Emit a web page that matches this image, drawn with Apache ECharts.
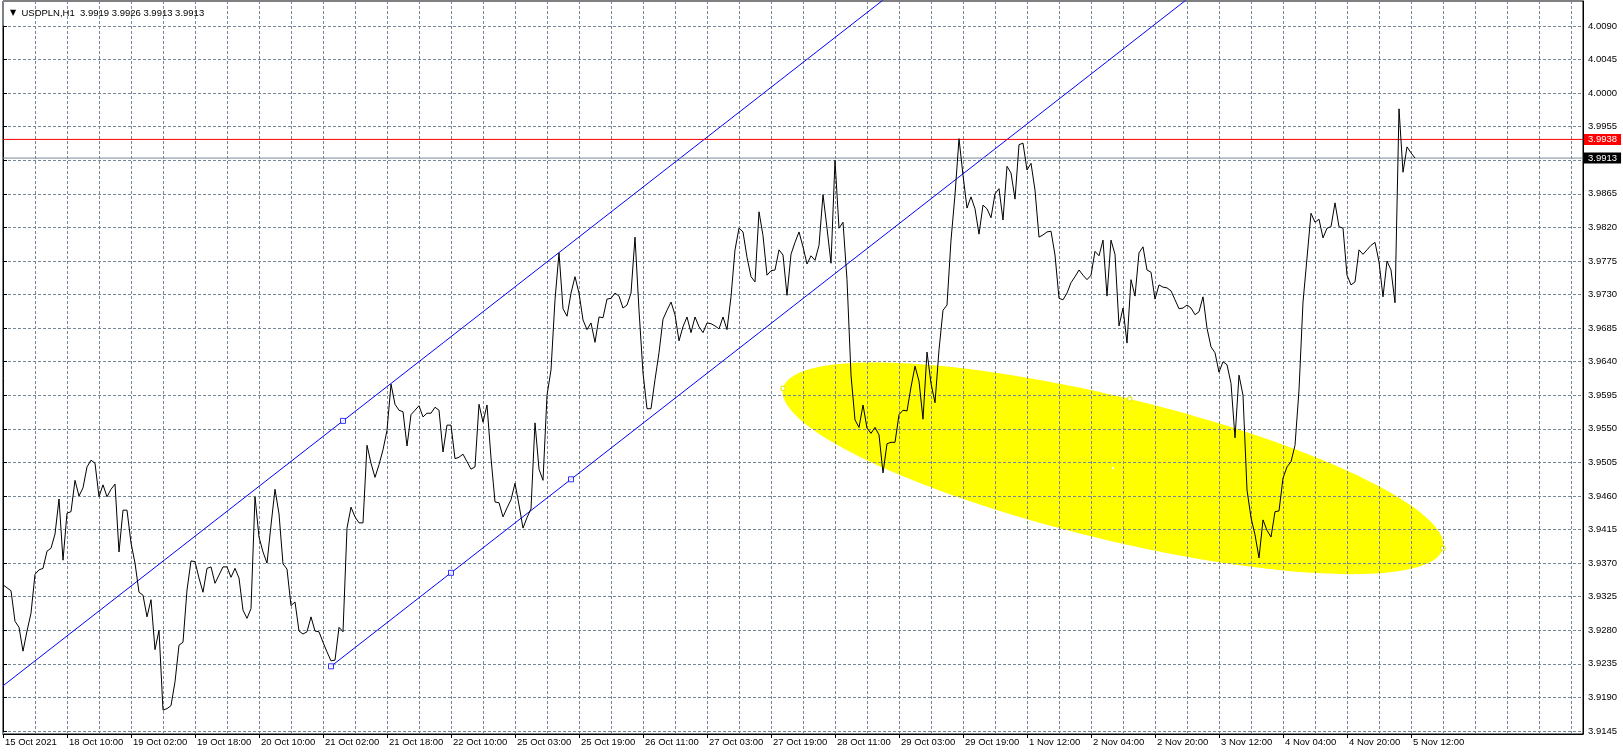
<!DOCTYPE html>
<html>
<head>
<meta charset="utf-8">
<script src="https://cdn.jsdelivr.net/npm/echarts@6/dist/echarts.min.js"></script>
<style>
html,body{margin:0;padding:0;background:#fff;}
#chart{width:1623px;height:755px;}
</style>
</head>
<body>
<div id="chart"></div>
<script>
// ---- data ----
const symbolTitle = 'USDPLN,H1  3.9919 3.9926 3.9913 3.9913';
const tickLabels = ['15 Oct 2021','18 Oct 10:00','19 Oct 02:00','19 Oct 18:00','20 Oct 10:00','21 Oct 02:00','21 Oct 18:00','22 Oct 10:00','25 Oct 03:00','25 Oct 19:00','26 Oct 11:00','27 Oct 03:00','27 Oct 19:00','28 Oct 11:00','29 Oct 03:00','29 Oct 19:00','1 Nov 12:00','2 Nov 04:00','2 Nov 20:00','3 Nov 12:00','4 Nov 04:00','4 Nov 20:00','5 Nov 12:00'];
const closes = [
3.9341,3.9337,3.9333,3.9292,3.9284,3.9252,3.9279,3.9303,3.9355,3.9361,
3.9363,3.9386,3.9390,3.9409,3.9456,3.9374,3.9437,3.9439,3.9481,3.9460,
3.9471,3.9499,3.9508,3.9504,3.9459,3.9475,3.9459,3.9469,3.9476,3.9385,
3.9441,3.9441,3.9397,3.9370,3.9331,3.9327,3.9298,3.9321,3.9254,3.9280,
3.9173,3.9175,3.9179,3.9211,3.9260,3.9264,3.9334,3.9373,3.9372,3.9350,
3.9331,3.9363,3.9365,3.9343,3.9354,3.9365,3.9365,3.9351,3.9363,3.9350,
3.9307,3.9296,3.9309,3.9459,3.9405,3.9385,3.9370,3.9421,3.9469,3.9436,
3.9369,3.9362,3.9313,3.9318,3.9279,3.9275,3.9278,3.9298,3.9279,3.9278,
3.9264,3.9251,3.9239,3.9240,3.9284,3.9278,3.9417,3.9445,3.9432,3.9424,
3.9424,3.9528,3.9504,3.9485,3.9502,3.9522,3.9548,3.9610,3.9583,3.9575,
3.9573,3.9527,3.9569,3.9575,3.9581,3.9566,3.9571,3.9571,3.9579,3.9575,
3.9519,3.9555,3.9555,3.9510,3.9512,3.9516,3.9506,3.9496,3.9499,3.9583,
3.9559,3.9582,3.9511,3.9452,3.9451,3.9432,3.9444,3.9455,3.9477,3.9448,
3.9417,3.9431,3.9443,3.9558,3.9496,3.9481,3.9595,3.9629,3.9723,3.9786,
3.9711,3.9701,3.9732,3.9754,3.9732,3.9696,3.9683,3.9692,3.9666,3.9700,
3.9699,3.9724,3.9725,3.9732,3.9728,3.9712,3.9716,3.9732,3.9807,3.9709,
3.9625,3.9577,3.9577,3.9616,3.9652,3.9697,3.9709,3.9720,3.9703,3.9668,
3.9687,3.9700,3.9679,3.9700,3.9687,3.9679,3.9692,3.9691,3.9688,3.9684,
3.9700,3.9683,3.9727,3.9790,3.9819,3.9814,3.9780,3.9754,3.9747,3.9841,
3.9809,3.9756,3.9762,3.9763,3.9790,3.9783,3.9729,3.9784,3.9800,3.9814,
3.9794,3.9771,3.9782,3.9776,3.9796,3.9864,3.9819,3.9772,3.9910,3.9819,
3.9827,3.9750,3.9622,3.9562,3.9552,3.9582,3.9551,3.9544,3.9552,3.9542,
3.9491,3.9530,3.9532,3.9532,3.9569,3.9575,3.9574,3.9606,3.9634,3.9614,
3.9563,3.9653,3.9611,3.9585,3.9656,3.9709,3.9716,3.9803,3.9864,3.9939,
3.9890,3.9846,3.9861,3.9845,3.9811,3.9850,3.9845,3.9833,3.9865,3.9872,
3.9830,3.9902,3.9893,3.9858,3.9931,3.9933,3.9897,3.9906,3.9870,3.9807,
3.9810,3.9814,3.9815,3.9783,3.9725,3.9723,3.9732,3.9746,3.9754,3.9763,
3.9756,3.9750,3.9756,3.9788,3.9782,3.9803,3.9728,3.9803,3.9784,3.9688,
3.9712,3.9665,3.9750,3.9728,3.9786,3.9794,3.9763,3.9760,3.9724,3.9743,
3.9740,3.9739,3.9735,3.9723,3.9711,3.9712,3.9716,3.9712,3.9703,3.9707,
3.9727,3.9685,3.9660,3.9652,3.9626,3.9640,3.9636,3.9611,3.9538,3.9622,
3.9595,3.9468,3.9431,3.9408,3.9377,3.9428,3.9414,3.9405,3.9439,3.9440,
3.9484,3.9499,3.9506,3.9528,3.9602,3.9720,3.9779,3.9839,3.9827,3.9831,
3.9806,3.9819,3.9821,3.9853,3.9821,3.9819,3.9756,3.9743,3.9747,3.9790,
3.9784,3.9790,3.9796,3.9800,3.9774,3.9727,3.9775,3.9763,3.9719,3.9979,
3.9894,3.9928,3.9920,3.9913
];
const askLine = 3.9938;     // red level
const bidLine = 3.9913;     // grey level
const priceTicks = {min: 3.9145, max: 4.0090, step: 0.0045};
const viewRange = {min: 3.914098, max: 4.012355};
// channel anchors [bar index, price]
const channelLowerA = [82, 3.92317];
const channelLowerB = [142, 3.94824];
const channelUpperC = [85, 3.95607];
// ellipse: major-axis end points [bar, price] and minor/major ratio
const ellipseEnds = [195, 3.96044, 360, 3.93899];
const ellipseRatio = 0.21;
const totalSlots = 396;

// ---- categories (hourly bars, market closed at weekends) ----
const categories = [];
(function(){
  let t = Date.UTC(2021, 9, 15, 17);
  for (let i = 0; i < totalSlots; i++) {
    const d = new Date(t);
    categories.push(d.toISOString().slice(0,16).replace('T',' '));
    if (d.getUTCDay() === 5 && d.getUTCHours() === 22) t += 50 * 3600e3;
    else t += 3600e3;
  }
})();

// channel lines
const slope = (channelLowerB[1] - channelLowerA[1]) / (channelLowerB[0] - channelLowerA[0]);
const lastIdx = totalSlots - 1;
const lowerLine = [[channelLowerA[0], channelLowerA[1]], [lastIdx, channelLowerA[1] + slope * (lastIdx - channelLowerA[0])]];
const upperLine = [[0, channelUpperC[1] - slope * channelUpperC[0]], [lastIdx, channelUpperC[1] + slope * (lastIdx - channelUpperC[0])]];
const midIdx = (channelLowerA[0] + channelLowerB[0]) / 2;
const anchors = [channelLowerA, [midIdx, channelLowerA[1] + slope * (midIdx - channelLowerA[0])], channelLowerB, channelUpperC];

const FONT = 'Liberation Sans, Arial, sans-serif';
const gridCol = '#778899';

function levelSeries(name, value, color, boxColor) {
  return {
    type: 'line', name: name, xAxisIndex: 0, yAxisIndex: 0, silent: true, symbol: 'none', z: 4,
    data: [[0, value], [lastIdx, value]],
    lineStyle: {color: color, width: 1, type: 'solid'},
    endLabel: {
      show: true, formatter: value.toFixed(4), distance: 1,
      backgroundColor: boxColor, color: '#ffffff', padding: [1, 4, 0, 4], lineHeight: 10,
      fontFamily: FONT, fontSize: 9.5
    }
  };
}

const chart = echarts.init(document.getElementById('chart'), null, {renderer: 'canvas'});
chart.setOption({
  animation: false,
  backgroundColor: '#ffffff',
  title: {
    text: '{t|▼}  ' + symbolTitle,
    left: 5, top: 3,
    textStyle: {
      fontFamily: FONT, fontSize: 9.5, fontWeight: 'normal', color: '#000',
      rich: {t: {fontSize: 8, fontFamily: 'DejaVu Sans', color: '#000'}}
    }
  },
  grid: [
    {left: 3, right: 40, top: 1, bottom: 21, show: true, borderColor: '#000', borderWidth: 1, backgroundColor: 'transparent'},
    {left: 3, right: 40, top: 26, bottom: 24, show: false}
  ],
  xAxis: [
    {
      type: 'category', gridIndex: 0, data: categories, boundaryGap: false,
      axisLine: {show: true, lineStyle: {color: '#000', width: 1}},
      axisTick: {show: true, length: 4, interval: (i) => i % 16 === 0 && i / 16 < tickLabels.length, lineStyle: {color: '#000'}},
      axisLabel: {
        show: true, interval: (i) => i % 16 === 0 && i / 16 < tickLabels.length,
        formatter: (v, i) => tickLabels[i / 16] || '',
        align: 'left', padding: [0, 0, 0, 2], margin: 3,
        fontFamily: FONT, fontSize: 9.5, color: '#000'
      },
      splitLine: {show: true, interval: 7, lineStyle: {color: gridCol, width: 1, type: [3, 2]}}
    },
    {type: 'value', gridIndex: 1, show: false, min: 0, max: 1}
  ],
  yAxis: [
    {
      type: 'value', gridIndex: 0, position: 'right', min: viewRange.min, max: viewRange.max, scale: true,
      axisLine: {show: true, lineStyle: {color: '#000'}},
      axisTick: {show: false}, axisLabel: {show: false}, splitLine: {show: false}
    },
    {
      type: 'value', gridIndex: 1, position: 'right', min: priceTicks.min, max: priceTicks.max, interval: priceTicks.step, scale: true,
      axisLine: {show: true, lineStyle: {color: '#000'}},
      axisTick: {show: true, length: 4, lineStyle: {color: '#000'}},
      axisLabel: {show: true, margin: 5, fontFamily: FONT, fontSize: 9.5, color: '#000',
        formatter: (v) => (Math.abs(v - bidLine) < 0.001 || Math.abs(v - askLine) < 0.001) ? '' : v.toFixed(4)},
      splitLine: {show: true, lineStyle: {color: gridCol, width: 1, type: [3, 2]}}
    }
  ],
  series: [
    {
      type: 'custom', name: 'ellipse', xAxisIndex: 0, yAxisIndex: 0, z: -1, silent: true,
      data: [ellipseEnds],
      renderItem: function (params, api) {
        const a = api.coord([api.value(0), api.value(1)]);
        const b = api.coord([api.value(2), api.value(3)]);
        const cx = (a[0] + b[0]) / 2, cy = (a[1] + b[1]) / 2;
        const dx = (b[0] - a[0]) / 2, dy = (b[1] - a[1]) / 2;
        const ra = Math.hypot(dx, dy), ang = Math.atan2(dy, dx), rb = ra * ellipseRatio;
        const ca = Math.cos(ang), sa = Math.sin(ang);
        const pts = [];
        for (let t = 0; t < 120; t++) {
          const th = t / 120 * Math.PI * 2;
          const ex = ra * Math.cos(th), ey = rb * Math.sin(th);
          pts.push([cx + ex * ca - ey * sa, cy + ex * sa + ey * ca]);
        }
        const mk = (x, y) => ({type: 'rect', shape: {x: x - 2, y: y - 2, width: 4, height: 4}, style: {fill: '#ffffff', stroke: '#e6e600', lineWidth: 1}});
        return {
          type: 'group',
          children: [
            {type: 'polygon', shape: {points: pts}, style: {fill: '#ffff00'}},
            mk(a[0], a[1]), mk(b[0], b[1]),
            mk(cx + rb * sa, cy - rb * ca),
            {type: 'rect', shape: {x: cx - 1, y: cy - 1, width: 2, height: 2}, style: {fill: '#ffffff'}}
          ]
        };
      }
    },
    {
      type: 'line', name: 'upper', xAxisIndex: 0, yAxisIndex: 0, data: upperLine, symbol: 'none', clip: true, silent: true,
      lineStyle: {color: '#0000ff', width: 1}, z: 3
    },
    {
      type: 'line', name: 'lower', xAxisIndex: 0, yAxisIndex: 0, data: lowerLine, symbol: 'none', clip: true, silent: true,
      lineStyle: {color: '#0000ff', width: 1}, z: 3
    },
    {
      type: 'scatter', name: 'anchors', xAxisIndex: 0, yAxisIndex: 0, data: anchors, symbol: 'rect', symbolSize: 5, silent: true,
      itemStyle: {color: '#ffffff', borderColor: '#0000ff', borderWidth: 1}, z: 4
    },
    levelSeries('ask', askLine, '#ff0000', '#ff0000'),
    levelSeries('bid', bidLine, gridCol, '#000000'),
    {
      type: 'line', name: 'USDPLN', xAxisIndex: 0, yAxisIndex: 0, data: closes, symbol: 'none', silent: true,
      lineStyle: {color: '#000000', width: 1}, z: 5
    }
  ]
});
</script>
</body>
</html>
